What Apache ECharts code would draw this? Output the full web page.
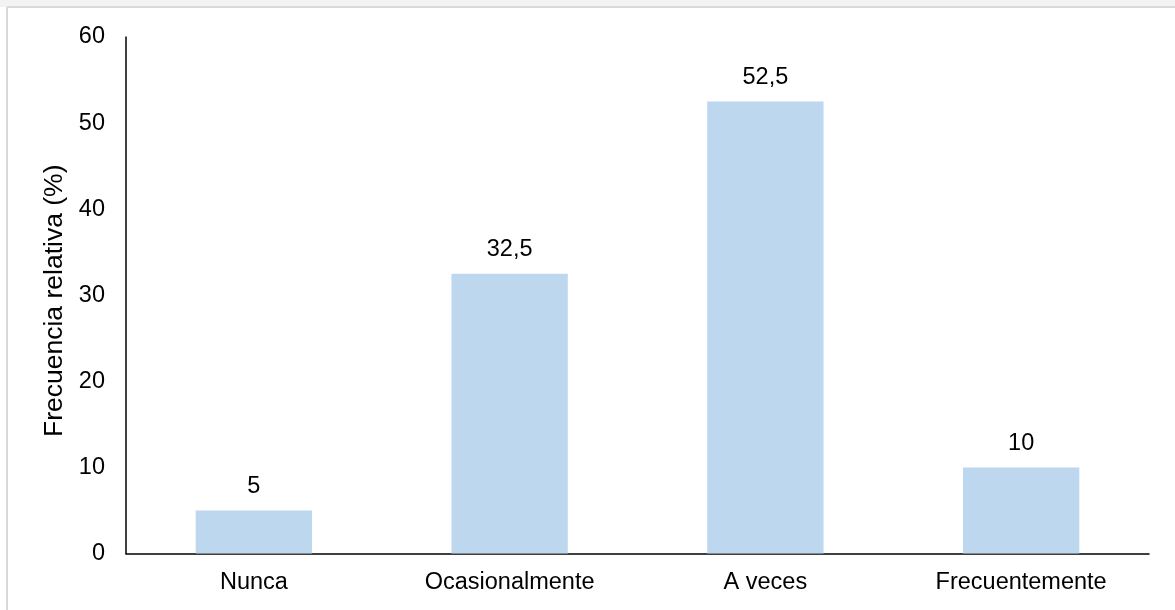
<!DOCTYPE html>
<html>
<head>
<meta charset="utf-8">
<script src="https://cdn.jsdelivr.net/npm/echarts@6/dist/echarts.min.js"></script>
<style>
  html, body { margin: 0; padding: 0; background: #ffffff; }
  #chart { width: 1175px; height: 610px; }
</style>
</head>
<body>
<div id="chart"></div>
<script>
// Response categories and relative frequency (%)
const categories = ['Nunca', 'Ocasionalmente', 'A veces', 'Frecuentemente'];
const frecuencia = [5, 32.5, 52.5, 10];
const yTicks = { min: 0, max: 60, interval: 10 };
const yAxisTitle = 'Frecuencia relativa (%)';

const FONT = 'Liberation Sans, Arial, sans-serif';
const chart = echarts.init(document.getElementById('chart'), null, { renderer: 'canvas' });

chart.setOption({
  backgroundColor: '#ffffff',
  animation: false,
  graphic: [
    // light strip and frame around the chart area
    { type: 'rect', z: -10, shape: { x: 0, y: 0, width: 1175, height: 7 }, style: { fill: '#f4f3f3' } },
    { type: 'line', z: -5, shape: { x1: 7, y1: 7, x2: 1175, y2: 7 }, style: { stroke: '#d9d9d9', lineWidth: 2 } },
    { type: 'line', z: -5, shape: { x1: 7, y1: 7, x2: 7, y2: 610 }, style: { stroke: '#d9d9d9', lineWidth: 2 } }
  ],
  grid: { left: 126, top: 37, right: 26, bottom: 56.5, containLabel: false },
  xAxis: {
    type: 'category',
    data: categories,
    axisLine: { show: true, lineStyle: { color: '#000000', width: 1.5 } },
    axisTick: { show: false },
    axisLabel: { color: '#000000', fontFamily: FONT, fontSize: 23.5, margin: 17 },
    splitLine: { show: false }
  },
  yAxis: {
    type: 'value',
    min: yTicks.min,
    max: yTicks.max,
    interval: yTicks.interval,
    name: yAxisTitle,
    nameLocation: 'middle',
    nameGap: 53,
    nameRotate: 90,
    nameTextStyle: { color: '#000000', fontFamily: FONT, fontSize: 26.5, padding: [0, 11, 0, 0] },
    axisLine: { show: true, lineStyle: { color: '#000000', width: 1.5 } },
    axisTick: { show: false },
    axisLabel: { color: '#000000', fontFamily: FONT, fontSize: 23.5, margin: 21 },
    splitLine: { show: false }
  },
  series: [{
    type: 'bar',
    data: frecuencia,
    barWidth: '45.5%',
    itemStyle: { color: '#bdd7ee' },
    label: {
      show: true,
      position: 'top',
      distance: 12,
      color: '#000000',
      fontFamily: FONT,
      fontSize: 23.5,
      formatter: p => String(p.value).replace('.', ',')
    }
  }]
});
</script>
</body>
</html>
